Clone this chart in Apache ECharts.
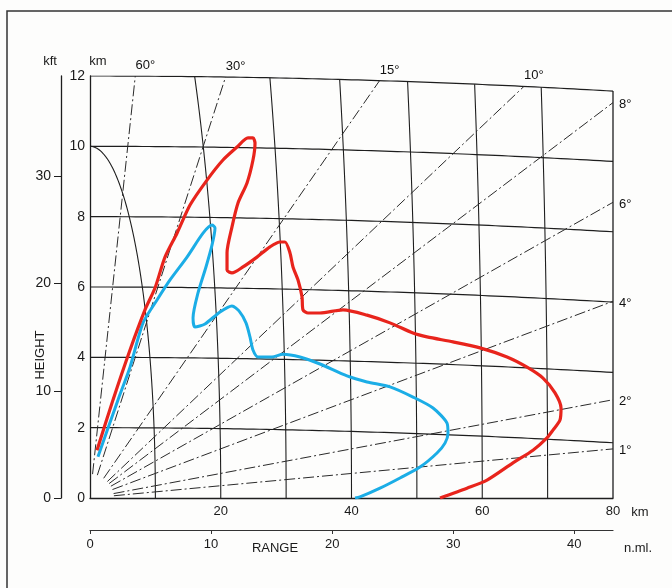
<!DOCTYPE html>
<html>
<head>
<meta charset="utf-8">
<script src="https://cdn.jsdelivr.net/npm/echarts@6/dist/echarts.min.js"></script>
<style>
html,body{margin:0;padding:0;background:#fdfdfc;}
#c{width:672px;height:588px;}
</style>
</head>
<body>
<div id="c"></div>
<script>
// ---- data (km) ----
const redRange  = [1.07,3.52,6.12,8.41,9.94,11.47,13.31,15.30,17.90,20.34,22.49,24.17,24.93,25.24,24.93,24.02,22.64,21.72,20.96,20.96,21.72,23.40,25.54,27.53,29.06,29.83,30.59,31.05,31.82,32.43,32.58,33.35,35.18,38.70,42.37,45.89,49.41,51.55,55.53,59.66,63.79,66.85,69.29,71.13,72.05,71.89,70.82,69.90,67.76,64.70,60.73,57.67,53.54];
const redHeight = [1.36,2.79,4.21,5.35,5.97,6.85,7.53,8.33,9.04,9.61,9.98,10.24,10.24,10.09,9.61,8.96,8.39,7.71,6.97,6.48,6.40,6.57,6.85,7.14,7.28,7.28,6.97,6.57,6.20,5.72,5.35,5.26,5.26,5.35,5.20,4.98,4.69,4.58,4.44,4.27,4.01,3.72,3.41,2.99,2.56,2.22,1.93,1.71,1.36,1.00,0.51,0.28,0.0];
const blueRange  = [1.22,4.28,6.12,8.11,10.25,12.24,14.84,17.29,18.66,19.12,18.66,17.74,16.52,15.76,16.06,17.59,19.89,21.72,22.79,23.86,24.47,24.93,25.70,27.84,29.52,32.12,35.18,39.31,42.37,45.89,49.41,52.47,54.61,54.76,54.30,53.08,50.48,47.42,44.36,41.30,40.54];
const blueHeight = [1.17,2.79,3.72,4.98,5.63,6.20,6.85,7.53,7.76,7.68,7.19,6.57,5.83,5.12,4.86,4.95,5.29,5.46,5.32,4.98,4.58,4.21,4.01,4.01,4.09,4.01,3.81,3.47,3.30,3.16,2.87,2.56,2.13,1.85,1.56,1.28,0.88,0.57,0.28,0.03,0.0];
const elevAngles   = [60,30,15,10,8,6,4,2,1];
const slantRanges  = [10,20,30,40,50,60,70];
const heightLevels = [2,4,6,8,10,12];
const kmRangeLabels = [20,40,60,80];
const nmiTicks = [0,10,20,30,40];
const kftTicks = [0,10,20,30];

// ---- geometry helpers ----
const XMAX = 80, YMAX = 12;
const CURV = 14900;                 // earth-curvature drop: x^2 / CURV
const PXX = 523/80, PXY = 422/12;   // px per km (layout)
const topY = x => YMAX - x*x/CURV;

const gridStyle = {color:'#1e1e1e', width:1.2};
const series = [];

heightLevels.forEach(h => {
  const d = [];
  for (let x = 0; x <= XMAX; x += 1) d.push([x, h - x*x/CURV]);
  series.push({type:'line', data:d, showSymbol:false, silent:true, lineStyle:{...gridStyle}, z:2});
});

slantRanges.forEach(R => {
  const d = [];
  for (let a = 0; a <= 90; a += 0.5) {
    const p = a*Math.PI/180, x = R*Math.cos(p), y = R*Math.sin(p);
    if (y > topY(x)) {
      let lo = (a-0.5)*Math.PI/180, hi = p;
      for (let i=0;i<30;i++){const m=(lo+hi)/2; if (R*Math.sin(m) > topY(R*Math.cos(m))) hi=m; else lo=m;}
      d.push([R*Math.cos(lo), R*Math.sin(lo)]);
      break;
    }
    d.push([x, y]);
  }
  series.push({type:'line', data:d, showSymbol:false, silent:true, lineStyle:{...gridStyle, width:1.1}, z:2});
});

// right frame at 80 km
series.push({type:'line', data:[[XMAX,0],[XMAX,topY(XMAX)]], showSymbol:false, silent:true, lineStyle:{...gridStyle, width:1.3}, z:2});

// elevation rays
const labelPts = [];
elevAngles.forEach(deg => {
  const t = Math.tan(deg*Math.PI/180);
  const x0 = 24/Math.sqrt(PXX*PXX + (PXY*t)*(PXY*t));
  let x1 = (-t + Math.sqrt(t*t + 4*YMAX/CURV)) / (2/CURV);
  let onTop = true;
  if (x1 > XMAX) { x1 = XMAX; onTop = false; }
  series.push({type:'line', data:[[x0, t*x0],[x1, t*x1]], showSymbol:false, silent:true,
    lineStyle:{color:'#2a2a2a', width:1, type:[11,3,2,3]}, z:2});
  labelPts.push({value:[x1, t*x1], label:onTop ? {position:'top', distance:4, offset:[10,0]} : {position:'right', distance:6, offset:[0,2]}, name: deg + '°'});
});
series.push({type:'scatter', data:labelPts, symbolSize:0, silent:true,
  label:{show:true, formatter:p=>p.name, color:'#111', opacity:1, fontSize:13, fontFamily:'Liberation Sans'}, z:3});

// coverage curves
series.push({type:'line', data:blueRange.map((x,i)=>[x,blueHeight[i]]), showSymbol:false, smooth:0.25,
  lineStyle:{color:'#1badE6', width:3}, z:5});
series.push({type:'line', data:redRange.map((x,i)=>[x,redHeight[i]]), showSymbol:false, smooth:0.25,
  lineStyle:{color:'#e8241c', width:3.2}, z:6});

const txt = {fill:'#1a1a1a', font:'13px "Liberation Sans"'};
const option = {
  animation:false,
  backgroundColor:'#fdfdfc',
  grid:{left:90, right:59, top:76, bottom:90, containLabel:false},
  xAxis:[
    {type:'value', min:0, max:XMAX, interval:20, position:'bottom',
     axisLine:{show:true, onZero:false, lineStyle:{color:'#1e1e1e', width:1.3}}, axisTick:{show:false}, splitLine:{show:false},
     axisLabel:{customValues:kmRangeLabels, margin:7, color:'#1a1a1a', fontSize:13, fontFamily:'Liberation Sans'}},
    {type:'value', min:0, max:XMAX/1.852, position:'bottom', offset:32,
     axisLine:{show:true, onZero:false, lineStyle:{color:'#333', width:1.2}},
     axisTick:{show:true, customValues:nmiTicks, length:4, lineStyle:{color:'#333'}}, splitLine:{show:false},
     axisLabel:{customValues:nmiTicks, margin:8, color:'#1a1a1a', fontSize:13, fontFamily:'Liberation Sans'}}
  ],
  yAxis:[
    {type:'value', min:0, max:YMAX, interval:2, position:'left',
     axisLine:{show:true, onZero:false, lineStyle:{color:'#1e1e1e', width:1.3}}, axisTick:{show:false}, splitLine:{show:false},
     axisLabel:{margin:5, color:'#1a1a1a', fontSize:14, fontFamily:'Liberation Sans'}},
    {type:'value', min:0, max:YMAX/0.3048, position:'left', offset:29,
     axisLine:{show:true, onZero:false, lineStyle:{color:'#1e1e1e', width:1.3}},
     axisTick:{show:true, customValues:kftTicks, length:7, lineStyle:{color:'#1e1e1e'}}, splitLine:{show:false},
     axisLabel:{customValues:kftTicks, margin:10, color:'#1a1a1a', fontSize:14, fontFamily:'Liberation Sans'}}
  ],
  graphic:[
    {type:'rect', shape:{x:7, y:11, width:700, height:640}, style:{fill:null, stroke:'#333', lineWidth:1.5}, silent:true},
    {type:'text', x:50, y:61, style:{text:'kft', ...txt, align:'center', verticalAlign:'middle'}},
    {type:'text', x:98, y:61, style:{text:'km', ...txt, align:'center', verticalAlign:'middle'}},
    {type:'text', x:40, y:355, rotation:Math.PI/2, style:{text:'HEIGHT', ...txt, align:'center', verticalAlign:'middle'}},
    {type:'text', x:275, y:548, style:{text:'RANGE', ...txt, align:'center', verticalAlign:'middle'}},
    {type:'text', x:640, y:512, style:{text:'km', ...txt, align:'center', verticalAlign:'middle'}},
    {type:'text', x:638, y:548, style:{text:'n.ml.', ...txt, align:'center', verticalAlign:'middle'}}
  ],
  series
};
const chart = echarts.init(document.getElementById('c'), null, {renderer:'canvas'});
chart.setOption(option);
</script>
</body>
</html>
